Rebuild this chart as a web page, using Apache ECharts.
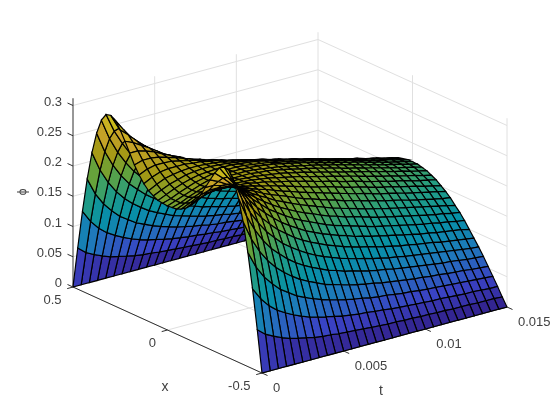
<!DOCTYPE html>
<html>
<head>
<meta charset="utf-8">
<style>html,body{margin:0;padding:0;background:#fff}#c{width:560px;height:420px}</style>
<script src="https://cdn.jsdelivr.net/npm/echarts@6/dist/echarts.min.js"></script>
</head>
<body>
<div id="c"></div>
<script>
const xValues = [-0.5,-0.475,-0.45,-0.425,-0.4,-0.375,-0.35,-0.325,-0.3,-0.275,-0.25,-0.225,-0.2,-0.175,-0.15,-0.125,-0.1,-0.075,-0.05,-0.025,0,0.025,0.05,0.075,0.1,0.125,0.15,0.175,0.2,0.225,0.25,0.275,0.3,0.325,0.35,0.375,0.4,0.425,0.45,0.475,0.5];
const tValues = [0,0.0005,0.001,0.0015,0.002,0.0025,0.003,0.0035,0.004,0.0045,0.005,0.0055,0.006,0.0065,0.007,0.0075,0.008,0.0085,0.009,0.0095,0.01,0.0105,0.011,0.0115,0.012,0.0125,0.013,0.0135,0.014,0.0145,0.015];
// phi in thousandths, one row per t value, one column per x value
const phiRows = [
[0,68,132,189,236,272,297,310,312,307,295,280,264,248,235,224,216,211,207,206,205,206,207,211,216,224,235,248,264,280,295,307,312,310,297,272,236,189,132,68,0],
[0,57,112,161,204,238,263,279,287,288,283,274,264,252,241,231,223,217,213,210,210,210,213,217,223,231,241,252,264,274,283,288,287,279,263,238,204,161,112,57,0],
[0,50,97,141,180,212,237,255,266,271,270,266,260,252,244,236,229,223,219,216,215,216,219,223,229,236,244,252,260,266,270,271,266,255,237,212,180,141,97,50,0],
[0,44,86,126,161,191,216,234,247,255,258,258,255,250,244,238,232,227,224,221,220,221,224,227,232,238,244,250,255,258,258,255,247,234,216,191,161,126,86,44,0],
[0,39,78,113,146,174,198,217,231,241,247,249,248,246,243,238,234,231,228,226,225,226,228,231,234,238,243,246,248,249,247,241,231,217,198,174,146,113,78,39,0],
[0,36,71,104,134,161,184,203,218,229,236,240,242,242,240,238,235,233,231,229,229,229,231,233,235,238,240,242,242,240,236,229,218,203,184,161,134,104,71,36,0],
[0,33,65,95,124,149,171,190,206,217,226,232,236,237,237,236,235,234,232,232,231,232,232,234,235,236,237,237,236,232,226,217,206,190,171,149,124,95,65,33,0],
[0,30,60,89,115,139,161,180,195,208,217,225,229,232,234,235,234,234,233,233,233,233,233,234,234,235,234,232,229,225,217,208,195,180,161,139,115,89,60,30,0],
[0,28,56,83,108,131,152,170,186,199,209,217,223,228,230,232,233,233,233,233,233,233,233,233,233,232,230,228,223,217,209,199,186,170,152,131,108,83,56,28,0],
[0,27,53,78,102,124,144,162,178,191,202,211,218,223,227,230,231,232,233,233,233,233,233,232,231,230,227,223,218,211,202,191,178,162,144,124,102,78,53,27,0],
[0,25,50,74,96,118,137,155,170,184,195,205,213,218,223,226,229,230,231,232,232,232,231,230,229,226,223,218,213,205,195,184,170,155,137,118,96,74,50,25,0],
[0,24,47,70,92,112,131,149,164,178,189,199,207,214,219,223,226,228,230,230,231,230,230,228,226,223,219,214,207,199,189,178,164,149,131,112,92,70,47,24,0],
[0,23,45,67,88,108,126,143,158,172,184,194,202,209,215,220,223,226,228,228,229,228,228,226,223,220,215,209,202,194,184,172,158,143,126,108,88,67,45,23,0],
[0,22,43,64,84,103,121,138,153,166,178,189,198,205,211,216,220,223,225,226,227,226,225,223,220,216,211,205,198,189,178,166,153,138,121,103,84,64,43,22,0],
[0,21,42,62,81,100,117,133,148,161,173,184,193,201,207,213,217,220,222,223,224,223,222,220,217,213,207,201,193,184,173,161,148,133,117,100,81,62,42,21,0],
[0,20,40,59,78,96,113,129,144,157,169,179,189,197,203,209,213,217,219,220,221,220,219,217,213,209,203,197,189,179,169,157,144,129,113,96,78,59,40,20,0],
[0,19,39,57,76,93,110,125,139,153,164,175,185,193,200,205,210,213,216,217,218,217,216,213,210,205,200,193,185,175,164,153,139,125,110,93,76,57,39,19,0],
[0,19,37,56,73,90,106,122,136,149,161,171,180,189,196,202,206,210,213,214,215,214,213,210,206,202,196,189,180,171,161,149,136,122,106,90,73,56,37,19,0],
[0,18,36,54,71,88,103,118,132,145,157,167,177,185,192,198,203,206,209,211,211,211,209,206,203,198,192,185,177,167,157,145,132,118,103,88,71,54,36,18,0],
[0,18,35,52,69,85,100,115,129,141,153,163,173,181,188,194,199,203,206,207,208,207,206,203,199,194,188,181,173,163,153,141,129,115,100,85,69,52,35,18,0],
[0,17,34,51,67,83,98,112,126,138,149,160,169,178,185,191,196,199,202,204,204,204,202,199,196,191,185,178,169,160,149,138,126,112,98,83,67,51,34,17,0],
[0,17,33,49,65,81,95,109,123,135,146,156,166,174,181,187,192,196,198,200,201,200,198,196,192,187,181,174,166,156,146,135,123,109,95,81,65,49,33,17,0],
[0,16,32,48,64,79,93,107,120,132,143,153,162,170,177,183,188,192,195,197,197,197,195,192,188,183,177,170,162,153,143,132,120,107,93,79,64,48,32,16,0],
[0,16,32,47,62,77,91,104,117,129,140,150,159,167,174,180,185,189,191,193,194,193,191,189,185,180,174,167,159,150,140,129,117,104,91,77,62,47,32,16,0],
[0,15,31,46,61,75,89,102,114,126,137,147,156,164,171,176,181,185,188,189,190,189,188,185,181,176,171,164,156,147,137,126,114,102,89,75,61,46,31,15,0],
[0,15,30,45,59,73,87,100,112,123,134,144,152,160,167,173,178,182,184,186,186,186,184,182,178,173,167,160,152,144,134,123,112,100,87,73,59,45,30,15,0],
[0,15,29,44,58,72,85,97,109,121,131,141,149,157,164,170,174,178,181,182,183,182,181,178,174,170,164,157,149,141,131,121,109,97,85,72,58,44,29,15,0],
[0,14,29,43,57,70,83,95,107,118,128,138,146,154,161,166,171,175,177,179,179,179,177,175,171,166,161,154,146,138,128,118,107,95,83,70,57,43,29,14,0],
[0,14,28,42,55,68,81,93,105,116,126,135,143,151,157,163,168,171,174,176,176,176,174,171,168,163,157,151,143,135,126,116,105,93,81,68,55,42,28,14,0],
[0,14,27,41,54,67,79,91,103,113,123,132,140,148,154,160,164,168,171,172,173,172,171,168,164,160,154,148,140,132,123,113,103,91,79,67,54,41,27,14,0],
[0,13,27,40,53,66,78,89,100,111,121,129,138,145,151,157,161,165,167,169,169,169,167,165,161,157,151,145,138,129,121,111,100,89,78,66,53,40,27,13,0]
];
const phiUnit = 0.001;
const phiMax = 0.312;
const xTicks = [0.5, 0, -0.5];
const xTickLabels = ['0.5', '0', '-0.5'];
const tTicks = [0, 0.005, 0.01, 0.015];
const tTickLabels = ['0', '0.005', '0.01', '0.015'];
const zTicks = [0, 0.05, 0.1, 0.15, 0.2, 0.25, 0.3];
const zTickLabels = ['0', '0.05', '0.1', '0.15', '0.2', '0.25', '0.3'];
const parulaStops = [[62,38,168],[72,82,244],[39,150,235],[8,181,208],[46,197,161],[122,203,77],[204,191,26],[252,204,52],[249,251,21]];
const meshShade = 0.8;

const tMax = tValues[tValues.length - 1];
// orthographic view: floor corner and screen vectors of the three box directions
function project(x, t, z) {
  const u = 0.5 - x, v = t / tMax;
  return [73 + 189 * u + 245 * v, 287 + 86 * u - 66 * v - 605 * z];
}
function nearness(x, t, z) {
  return 0.742 * (0.5 - x) - 0.571 * (t / tMax) + 0.733 * z;
}
function parula(f) {
  f = Math.max(0, Math.min(1, f));
  const p = f * (parulaStops.length - 1), i = Math.min(parulaStops.length - 2, Math.floor(p)), w = p - i;
  const a = parulaStops[i], b = parulaStops[i + 1];
  return 'rgb(' + [0, 1, 2].map(n => Math.round((a[n] + (b[n] - a[n]) * w) * meshShade)).join(',') + ')';
}
const phiAt = (j, i) => phiRows[j][i] * phiUnit;

// surface cells, far to near
const cells = [];
for (let j = 0; j < tValues.length - 1; j++) {
  for (let i = 0; i < xValues.length - 1; i++) {
    const mean = (phiAt(j, i) + phiAt(j, i + 1) + phiAt(j + 1, i) + phiAt(j + 1, i + 1)) / 4;
    const xm = (xValues[i] + xValues[i + 1]) / 2, tm = (tValues[j] + tValues[j + 1]) / 2;
    cells.push([j, i, mean, nearness(xm, tm, mean)]);
  }
}
cells.sort((a, b) => a[3] - b[3]);

// axis lines: [kind, x0,t0,z0, x1,t1,z1]
const GRID = 0, RULER = 1;
const segs = [];
const xFar = 0.5, xNear = -0.5, zTop = phiMax;
tTicks.forEach(t => { if (t > 0) segs.push([GRID, xFar, t, 0, xFar, t, zTop]); });
xTicks.forEach(x => { if (x < xFar) segs.push([GRID, x, tMax, 0, x, tMax, zTop]); });
zTicks.forEach(z => {
  segs.push([GRID, xFar, 0, z, xFar, tMax, z]);
  segs.push([GRID, xFar, tMax, z, xNear, tMax, z]);
});
xTicks.forEach(x => segs.push([GRID, x, 0, 0, x, tMax, 0]));
tTicks.forEach(t => segs.push([GRID, xFar, t, 0, xNear, t, 0]));
segs.push([RULER, xFar, 0, 0, xFar, 0, zTop]);
segs.push([RULER, xFar, 0, 0, xNear, 0, 0]);
segs.push([RULER, xNear, 0, 0, xNear, tMax, 0]);

// tick marks and labels
const labels = [];
zTicks.forEach((z, k) => labels.push([zTickLabels[k], xFar, 0, z, 0, 0, 'z']));
xTicks.forEach((x, k) => labels.push([xTickLabels[k], x, 0, 0, 0, 0, 'x']));
tTicks.forEach((t, k) => labels.push([tTickLabels[k], xNear, t, 0, 0, 0, 't']));

const LABEL = {
  z: {dx: null, dy: -3.5, align: 'right', tick: [-5.5, -2.5]},
  x: {dx: -11.5, dy: 13, align: 'right', tick: [-5.8, 1.6]},
  t: {dx: 11, dy: 15, align: 'left', tick: [5.5, 2.5]}
};
const titles = [
  {text: 'x', pos: [165, 387], rotation: 0, size: 14},
  {text: 't', pos: [381, 391], rotation: 0, size: 14},
  {text: 'ϕ', pos: [23, 192], rotation: Math.PI / 2, size: 12}
];
const textColor = '#404040';
const fontFamily = '"Liberation Sans", Arial, sans-serif';

const chart = echarts.init(document.getElementById('c'), null, {renderer: 'canvas'});
chart.setOption({
  animation: false,
  backgroundColor: '#fff',
  tooltip: {show: false},
  grid: {left: 0, right: 0, top: 0, bottom: 0},
  xAxis: {type: 'value', min: 0, max: 560, show: false},
  yAxis: {type: 'value', min: 0, max: 420, inverse: true, show: false},
  series: [
    {
      type: 'custom', coordinateSystem: 'cartesian2d', silent: true, clip: false, z: 1,
      data: segs.map((s, i) => [i]),
      encode: {x: 0},
      renderItem(params, api) {
        const s = segs[params.dataIndex];
        const a = api.coord(project(s[1], s[2], s[3])), b = api.coord(project(s[4], s[5], s[6]));
        const ruler = s[0] === RULER;
        return {type: 'line', z2: ruler ? 2 : 1,
          shape: {x1: a[0], y1: a[1], x2: b[0], y2: b[1]},
          style: {stroke: ruler ? '#303030' : '#e0e0e0', lineWidth: 1}};
      }
    },
    {
      type: 'custom', coordinateSystem: 'cartesian2d', silent: true, clip: false, z: 2,
      progressive: 0,
      data: cells.map((c, i) => [i]),
      encode: {x: 0},
      renderItem(params, api) {
        const c = cells[params.dataIndex], j = c[0], i = c[1];
        const corners = [[i, j], [i + 1, j], [i + 1, j + 1], [i, j + 1]];
        const pts = corners.map(q => api.coord(project(xValues[q[0]], tValues[q[1]], phiAt(q[1], q[0]))));
        return {type: 'polygon', shape: {points: pts},
          style: {fill: parula(c[2] / phiMax), stroke: '#000000', lineWidth: 1.2}};
      }
    },
    {
      type: 'custom', coordinateSystem: 'cartesian2d', silent: true, clip: false, z: 3,
      data: labels.map((l, i) => [i]),
      encode: {x: 0},
      renderItem(params, api) {
        const l = labels[params.dataIndex], cfg = LABEL[l[6]];
        const p = api.coord(project(l[1], l[2], l[3]));
        const tx = cfg.dx === null ? 62 : p[0] + cfg.dx;
        return {type: 'group', children: [
          {type: 'line', shape: {x1: p[0], y1: p[1], x2: p[0] + cfg.tick[0], y2: p[1] + cfg.tick[1]},
            style: {stroke: '#303030', lineWidth: 1}},
          {type: 'text', style: {x: tx, y: p[1] + cfg.dy, text: l[0], fill: textColor,
            font: '13px ' + fontFamily, align: cfg.align, verticalAlign: 'middle'}}
        ]};
      }
    },
    {
      type: 'custom', coordinateSystem: 'cartesian2d', silent: true, clip: false, z: 3,
      data: titles.map((l, i) => [i]),
      encode: {x: 0},
      renderItem(params, api) {
        const l = titles[params.dataIndex], p = api.coord(l.pos);
        return {type: 'text', x: p[0], y: p[1], rotation: l.rotation,
          style: {x: 0, y: 0, text: l.text, fill: textColor, font: l.size + 'px ' + fontFamily,
            align: 'center', verticalAlign: 'middle'}};
      }
    }
  ]
});
</script>
</body>
</html>
